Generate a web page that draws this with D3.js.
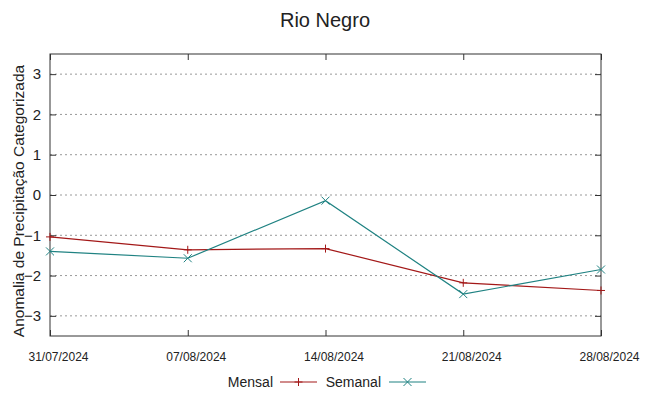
<!DOCTYPE html>
<html>
<head>
<meta charset="utf-8">
<script src="https://cdn.jsdelivr.net/npm/d3@7"></script>
<style>
  body { margin: 0; background: #fff; }
  text { font-family: "Liberation Sans", Arial, sans-serif; fill: #222; }
</style>
</head>
<body>
<script>
// Chart size
var w = 649;
var h = 396;
var margin = {top: 54, right: 48, bottom: 60, left: 50};

// Data
var dates = ["31/07/2024", "07/08/2024", "14/08/2024", "21/08/2024", "28/08/2024"];
var mensal = [-1.04, -1.36, -1.33, -2.18, -2.37];
var semanal = [-1.40, -1.57, -0.14, -2.46, -1.85];
var yTicks = [-3, -2, -1, 0, 1, 2, 3];

var x0 = margin.left, x1 = w - margin.right;
var y0 = margin.top, y1 = h - margin.bottom;

var parse = d3.timeParse("%d/%m/%Y");
var xScale = d3.scaleTime()
  .domain([parse(dates[0]), parse(dates[dates.length - 1])])
  .range([x0, x1]);
var yScale = d3.scaleLinear().domain([-3.5, 3.5]).range([y1, y0]);

var svg = d3.select("body").append("svg")
  .attr("width", w).attr("height", h);

// Title
svg.append("text")
  .attr("x", 325).attr("y", 27)
  .attr("text-anchor", "middle")
  .attr("font-size", 20)
  .text("Rio Negro");

// Grid (dotted)
svg.append("g").selectAll("line")
  .data(yTicks).enter().append("line")
  .attr("x1", x0).attr("x2", x1)
  .attr("y1", function(d) { return yScale(d); })
  .attr("y2", function(d) { return yScale(d); })
  .attr("stroke", "#999").attr("stroke-width", 1)
  .attr("stroke-dasharray", "2,3");

// Axes: ticks inward, mirrored
var xDates = dates.map(parse);
svg.append("g")
  .attr("transform", "translate(0," + y1 + ")")
  .call(d3.axisBottom(xScale).tickValues(xDates)
    .tickFormat(d3.timeFormat("%d/%m/%Y")).tickSizeInner(-6).tickSizeOuter(0).tickPadding(16))
  .call(function(g) {
    g.select(".domain").remove();
    g.selectAll("line").attr("stroke", "#333");
    g.selectAll("text").attr("font-size", 12).attr("dx", 8).attr("fill", "#222");
  });
svg.append("g")
  .attr("transform", "translate(0," + y0 + ")")
  .call(d3.axisTop(xScale).tickValues(xDates).tickFormat("").tickSizeInner(-6).tickSizeOuter(0))
  .call(function(g) {
    g.select(".domain").remove();
    g.selectAll("line").attr("stroke", "#333");
  });
svg.append("g")
  .attr("transform", "translate(" + x0 + ",0)")
  .call(d3.axisLeft(yScale).tickValues(yTicks).tickFormat(d3.format("d"))
    .tickSizeInner(-6).tickSizeOuter(0).tickPadding(9))
  .call(function(g) {
    g.select(".domain").remove();
    g.selectAll("line").attr("stroke", "#333");
    g.selectAll("text").attr("font-size", 15).attr("fill", "#222");
  });
svg.append("g")
  .attr("transform", "translate(" + x1 + ",0)")
  .call(d3.axisRight(yScale).tickValues(yTicks).tickFormat("").tickSizeInner(-6).tickSizeOuter(0))
  .call(function(g) {
    g.select(".domain").remove();
    g.selectAll("line").attr("stroke", "#333");
  });

// Frame
svg.append("rect")
  .attr("x", x0).attr("y", y0)
  .attr("width", x1 - x0).attr("height", y1 - y0)
  .attr("fill", "none").attr("stroke", "#333").attr("stroke-width", 1);

// Y label
svg.append("text")
  .attr("transform", "translate(24,201) rotate(-90)")
  .attr("text-anchor", "middle")
  .attr("font-size", 15.5)
  .text("Anomalia de Precipitação Categorizada");

// Lines
var series = [
  {name: "Mensal", values: mensal, color: "#a31818", mark: "plus"},
  {name: "Semanal", values: semanal, color: "#1f8282", mark: "cross"}
];

var line = d3.line()
  .x(function(d, i) { return xScale(xDates[i]); })
  .y(function(d) { return yScale(d); });

function drawMark(g, mark, cx, cy, color) {
  var s = 4;
  if (mark == "plus") {
    g.append("path").attr("d", "M" + (cx - s) + "," + cy + "H" + (cx + s) + "M" + cx + "," + (cy - s) + "V" + (cy + s))
      .attr("stroke", color).attr("stroke-width", 1).attr("fill", "none");
  } else {
    g.append("path").attr("d", "M" + (cx - s) + "," + (cy - s) + "L" + (cx + s) + "," + (cy + s) + "M" + (cx - s) + "," + (cy + s) + "L" + (cx + s) + "," + (cy - s))
      .attr("stroke", color).attr("stroke-width", 1).attr("fill", "none");
  }
}

series.forEach(function(s) {
  var g = svg.append("g");
  g.append("path")
    .datum(s.values)
    .attr("d", line)
    .attr("fill", "none")
    .attr("stroke", s.color)
    .attr("stroke-width", 1.2);
  s.values.forEach(function(v, i) {
    drawMark(g, s.mark, xScale(xDates[i]), yScale(v), s.color);
  });
});

// Legend
var legY = 382;
var legend = [
  {textEnd: 273, lx0: 280, lx1: 317},
  {textEnd: 381, lx0: 389, lx1: 426}
];
series.forEach(function(s, i) {
  var L = legend[i];
  svg.append("text")
    .attr("x", L.textEnd).attr("y", legY + 5)
    .attr("text-anchor", "end")
    .attr("font-size", 14)
    .text(s.name);
  svg.append("line")
    .attr("x1", L.lx0).attr("x2", L.lx1)
    .attr("y1", legY).attr("y2", legY)
    .attr("stroke", s.color).attr("stroke-width", 1.2);
  drawMark(svg, s.mark, (L.lx0 + L.lx1) / 2, legY, s.color);
});
</script>
</body>
</html>
